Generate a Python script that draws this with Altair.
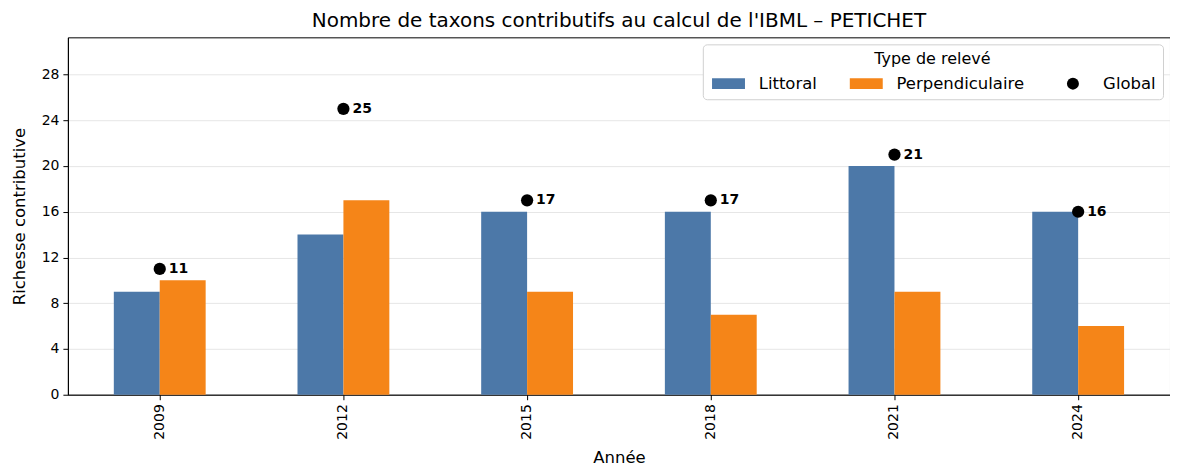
import altair as alt
import pandas as pd

years = ["2009", "2012", "2015", "2018", "2021", "2024"]
littoral = [9, 14, 16, 16, 20, 16]
perpendiculaire = [10, 17, 9, 7, 9, 6]
global_vals = [11, 25, 17, 17, 21, 16]

types = ["Littoral", "Perpendiculaire", "Global"]
colors = ["#4c78a8", "#f58518", "#000000"]
rect_path = "M-2.75,-0.9H2.75V0.9H-2.75Z"
shapes = [rect_path, rect_path, "circle"]

bars_df = pd.DataFrame({
    "Année": years * 2,
    "Type": ["Littoral"] * len(years) + ["Perpendiculaire"] * len(years),
    "Valeur": littoral + perpendiculaire,
})
glob_df = pd.DataFrame({"Année": years, "Type": ["Global"] * len(years), "Valeur": global_vals})

FONT = "DejaVu Sans"

x_enc = alt.X("Année:N", sort=years, title="Année",
              scale=alt.Scale(paddingInner=0.5, paddingOuter=0.25),
              axis=alt.Axis(labelAngle=-90, labelAlign="right", labelBaseline="middle",
                            grid=False, titlePadding=10))
y_enc = alt.Y("Valeur:Q", title="Richesse contributive",
              scale=alt.Scale(domain=[0, 31.25], nice=False),
              axis=alt.Axis(values=[0, 4, 8, 12, 16, 20, 24, 28], grid=True, titlePadding=14))

legend = alt.Legend(
    title="Type de relevé", orient="top-right", direction="horizontal", columns=3,
    titleAnchor="middle", titleAlign="center", titleFontSize=16, titleFontWeight="normal",
    titleFont=FONT, titleColor="#000000", titlePadding=8,
    labelFont=FONT, labelFontSize=16.5, labelColor="#000000",
    symbolSize=144, symbolOffset=10.5, labelOffset=22, columnPadding=30,
    symbolStrokeWidth=0, padding=7, offset=7,
    strokeColor="#d0d0d0", fillColor="white", cornerRadius=4,
)
color_scale = alt.Scale(domain=types, range=colors)
shape_scale = alt.Scale(domain=types, range=shapes)

bars = alt.Chart(bars_df).mark_bar().encode(
    x=x_enc,
    xOffset=alt.XOffset("Type:N", sort=["Littoral", "Perpendiculaire"],
                        scale=alt.Scale(paddingInner=0, paddingOuter=0)),
    y=y_enc,
    color=alt.Color("Type:N", scale=color_scale, legend=legend),
)

points = alt.Chart(glob_df).mark_point(filled=True, opacity=1, size=150).encode(
    x=x_enc,
    y=y_enc,
    color=alt.Color("Type:N", scale=color_scale, legend=legend),
    shape=alt.Shape("Type:N", scale=shape_scale, legend=legend),
)

labels = alt.Chart(glob_df).mark_text(
    align="left", baseline="middle", dx=9, fontWeight="bold", fontSize=14, font=FONT, color="#000000"
).encode(x=x_enc, y=y_enc, text=alt.Text("Valeur:Q"))

chart = alt.layer(bars, points, labels).properties(
    width=1104, height=358,
    autosize=alt.AutoSizeParams(type="none"),
    padding={"left": 60, "top": 29, "right": 0, "bottom": 71},
    title=alt.Title("Nombre de taxons contributifs au calcul de l'IBML – PETICHET",
                    fontSize=20, font=FONT, fontWeight="normal", anchor="middle",
                    color="#000000", offset=6),
).configure(font=FONT).configure_view(
    stroke="#000000", strokeWidth=1
).configure_axis(
    labelFont=FONT, labelFontSize=14, labelColor="#000000",
    titleFont=FONT, titleFontSize=16.5, titleFontWeight="normal", titleColor="#000000",
    tickColor="#000000", tickSize=5, labelPadding=4, domainColor="#000000",
    gridColor="#e6e6e6", gridWidth=1,
)

chart.save("out.html", embed_options={"renderer": "svg", "actions": False})
